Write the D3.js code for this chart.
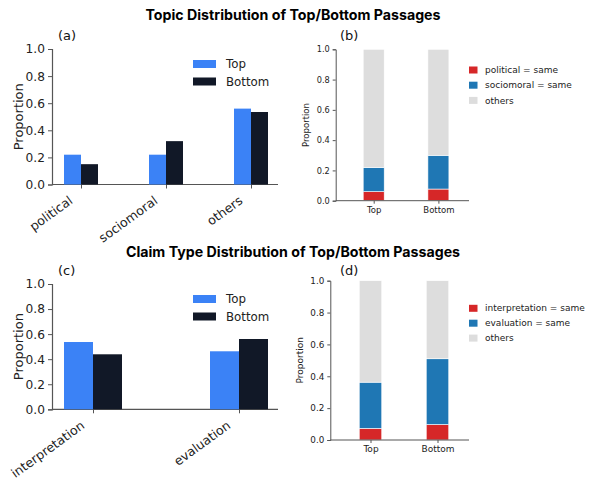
<!DOCTYPE html>
<html><head><meta charset="utf-8">
<script src="https://cdn.jsdelivr.net/npm/d3@7"></script>
<style>body{margin:0;background:#fff}svg{display:block}</style>
</head><body>
<svg id="c" width="590" height="480"></svg>
<script>
// ---- data ----
const topicCats = ["political", "sociomoral", "others"];
const topicTop = [0.22, 0.22, 0.56];
const topicBottom = [0.15, 0.32, 0.535];
const claimCats = ["interpretation", "evaluation"];
const claimTop = [0.537, 0.463];
const claimBottom = [0.439, 0.561];
const groupSeries = ["Top", "Bottom"];
const stackGroups = ["Top", "Bottom"];
const topicStackKeys = ["political = same", "sociomoral = same", "others"];
const topicPolitical = [0.06, 0.077];
const topicSociomoral = [0.16, 0.223];
const claimStackKeys = ["interpretation = same", "evaluation = same", "others"];
const claimInterp = [0.073, 0.097];
const claimEval = [0.29, 0.413];
const yTicks = [0, 0.2, 0.4, 0.6, 0.8, 1.0];
const titles = ["Topic Distribution of Top/Bottom Passages", "Claim Type Distribution of Top/Bottom Passages"];

const svg = d3.select("#c");
const groupColors = ["#3b82f6", "#111827"];
const stackColors = ["#d62728", "#1f77b4", "#dddddd"];
const axisColor = "#555";
const SANS = "Inter, 'DejaVu Sans', sans-serif";
const DV = "'DejaVu Sans', sans-serif";

svg.append("text").attr("x", 293).attr("y", 20).attr("text-anchor", "middle")
  .attr("font-family", SANS).attr("font-weight", 700).attr("font-size", 14.2).attr("fill", "#000").text(titles[0]);
svg.append("text").attr("x", 293).attr("y", 256.5).attr("text-anchor", "middle")
  .attr("font-family", SANS).attr("font-weight", 700).attr("font-size", 14.2).attr("fill", "#000").text(titles[1]);

function grouped(o) {
  const g = svg.append("g");
  const y = d3.scaleLinear().domain([0, 1]).range([o.y0, o.y1]);
  const x = d3.scalePoint().domain(o.cats).range([o.c0, o.c1]);
  const bw = o.bw;
  const yAxis = d3.axisLeft(y).tickValues(yTicks).tickFormat(d3.format(".1f")).tickSize(4).tickPadding(3);
  const ya = g.append("g").attr("transform", `translate(${o.ax0},0)`).call(yAxis);
  const xAxis = d3.axisBottom(x).tickSize(4).tickFormat("");
  const xa = g.append("g").attr("transform", `translate(0,${o.y0})`).call(xAxis);
  xa.select(".domain").attr("d", `M${o.ax0},0H${o.ax1}`);
  [ya, xa].forEach(a => { a.select(".domain").attr("stroke", axisColor).attr("stroke-width", 1.2);
    a.selectAll(".tick line").attr("stroke", axisColor); });
  ya.selectAll(".tick text").attr("font-family", DV).attr("font-size", 12.2).attr("fill", "#222");
  // bars
  const vals = [o.top, o.bottom];
  vals.forEach((arr, si) => {
    g.selectAll(null).data(o.cats).enter().append("rect")
      .attr("x", d => x(d) + (si === 0 ? -bw : 0))
      .attr("width", bw)
      .attr("y", (d, i) => y(arr[i]))
      .attr("height", (d, i) => y(0) - y(arr[i]))
      .attr("fill", groupColors[si]);
  });
  // x labels rotated
  g.selectAll(null).data(o.cats).enter().append("text")
    .attr("transform", d => `translate(${x(d) - 7.5},${o.y0 + 18}) rotate(-36)`)
    .attr("text-anchor", "end")
    .attr("font-family", DV).attr("font-size", 12.6).attr("fill", "#222").text(d => d);
  g.append("text").attr("transform", `translate(${o.ylx},${(o.y0 + o.y1) / 2}) rotate(-90)`)
    .attr("text-anchor", "middle").attr("dy", "0.35em")
    .attr("font-family", DV).attr("font-size", 13).attr("fill", "#222").text("Proportion");
  g.append("text").attr("x", o.ax0 + 6).attr("y", o.y1 - 9).attr("font-family", DV)
    .attr("font-size", 13).attr("fill", "#111").text(o.label);
  // legend
  const lg = g.append("g");
  groupSeries.forEach((s, i) => {
    lg.append("rect").attr("x", o.lx).attr("y", o.ly + i * 17.5 - 4).attr("width", 23).attr("height", 8).attr("fill", groupColors[i]);
    lg.append("text").attr("x", o.lx + 33).attr("y", o.ly + i * 17.5).attr("dy", "0.35em")
      .attr("font-family", DV).attr("font-size", 11.8).attr("fill", "#222").text(s);
  });
}

function stacked(o) {
  const g = svg.append("g");
  const y = d3.scaleLinear().domain([0, 1]).range([o.y0, o.y1]);
  const x = d3.scalePoint().domain(stackGroups).range([o.c0, o.c1]);
  const rows = stackGroups.map((grp, i) => ({ grp, a: o.a[i], b: o.b[i], c: 1 - o.a[i] - o.b[i] }));
  const series = d3.stack().keys(["a", "b", "c"])(rows);
  series.forEach((s, si) => {
    g.selectAll(null).data(s).enter().append("rect")
      .attr("x", d => x(d.data.grp) - o.bw / 2).attr("width", o.bw)
      .attr("y", d => y(d[1])).attr("height", d => y(d[0]) - y(d[1]))
      .attr("fill", stackColors[si]).attr("stroke", "#fff").attr("stroke-width", 0.6);
  });
  const ya = g.append("g").attr("transform", `translate(${o.ax0},0)`)
    .call(d3.axisLeft(y).tickValues(yTicks).tickFormat(d3.format(".1f")).tickSize(3).tickPadding(3));
  const xa = g.append("g").attr("transform", `translate(0,${o.y0})`)
    .call(d3.axisBottom(x).tickSize(3).tickPadding(3));
  xa.select(".domain").attr("d", `M${o.ax0},0H${o.ax1}`);
  [ya, xa].forEach(a => { a.select(".domain").attr("stroke", axisColor).attr("stroke-width", 1);
    a.selectAll(".tick line").attr("stroke", axisColor);
    a.selectAll(".tick text").attr("font-family", DV).attr("fill", "#222"); });
  ya.selectAll(".tick text").attr("font-size", o.tfs);
  xa.selectAll(".tick text").attr("font-size", o.xfs);
  g.append("text").attr("transform", `translate(${o.ylx},${(o.y0 + o.y1) / 2}) rotate(-90)`)
    .attr("text-anchor", "middle").attr("dy", "0.35em")
    .attr("font-family", DV).attr("font-size", o.xfs).attr("fill", "#222").text("Proportion");
  g.append("text").attr("x", o.labx).attr("y", o.laby).attr("font-family", DV)
    .attr("font-size", 13).attr("fill", "#111").text(o.label);
  o.keys.forEach((k, i) => {
    g.append("rect").attr("x", o.lx).attr("y", o.ly + i * o.lstep - 3.5).attr("width", 8.5).attr("height", 7).attr("fill", stackColors[i]);
    g.append("text").attr("x", o.lx + 16).attr("y", o.ly + i * o.lstep).attr("dy", "0.35em")
      .attr("font-family", DV).attr("font-size", o.lfs).attr("fill", "#222").text(k);
  });
}

grouped({ cats: topicCats, top: topicTop, bottom: topicBottom, y0: 184.5, y1: 49, ax0: 52, ax1: 278,
  c0: 81, c1: 251, bw: 17, ylx: 18, label: "(a)", lx: 193, ly: 64 });
grouped({ cats: claimCats, top: claimTop, bottom: claimBottom, y0: 409.3, y1: 284, ax0: 52, ax1: 278,
  c0: 93, c1: 239, bw: 29, ylx: 18, label: "(c)", lx: 193, ly: 299 });
stacked({ a: topicPolitical, b: topicSociomoral, keys: topicStackKeys, y0: 200.7, y1: 49.3, ax0: 335.7, ax1: 469,
  c0: 373.7, c1: 438.4, bw: 21, ylx: 305.7, label: "(b)", labx: 340, laby: 40, lx: 469, ly: 70, lstep: 15.2, tfs: 8.2, xfs: 8.5, lfs: 9 });
stacked({ a: claimInterp, b: claimEval, keys: claimStackKeys, y0: 440, y1: 280.7, ax0: 330.3, ax1: 469,
  c0: 370.5, c1: 437.5, bw: 22.5, ylx: 300.3, label: "(d)", labx: 340, laby: 275, lx: 469, ly: 308.3, lstep: 14.9, tfs: 8.8, xfs: 9, lfs: 9 });
</script>
</body></html>
